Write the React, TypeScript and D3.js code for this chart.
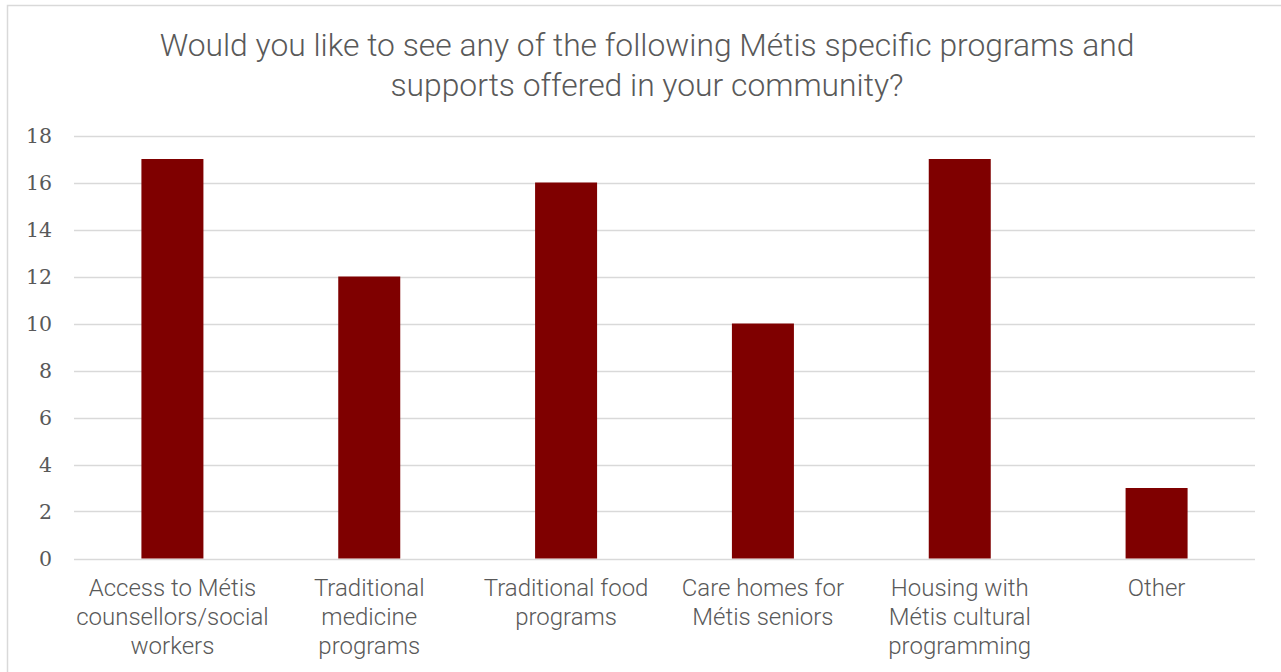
import React from "react";
import * as d3 from "d3";

const categories: string[][] = [
  ["Access to Métis", "counsellors/social", "workers"],
  ["Traditional", "medicine", "programs"],
  ["Traditional food", "programs"],
  ["Care homes for", "Métis seniors"],
  ["Housing with", "Métis cultural", "programming"],
  ["Other"],
];
const values: number[] = [17, 12, 16, 10, 17, 3];
const yTicks: number[] = [0, 2, 4, 6, 8, 10, 12, 14, 16, 18];
const titleLines: string[] = [
  "Would you like to see any of the following Métis specific programs and",
  "supports offered in your community?",
];

const W = 1281;
const H = 672;
const plotLeft = 74;
const plotRight = 1255;
const plotTop = 135.5;
const plotBottom = 558.5;
const textColor = "#595959";
const barColor = "#7f0000";

export default function App() {
  const x = d3
    .scaleBand<number>()
    .domain(categories.map((_, i) => i))
    .range([plotLeft, plotRight])
    .paddingInner(0.685)
    .paddingOuter(0.3425);
  const y = d3.scaleLinear().domain([0, 18]).range([plotBottom, plotTop]);

  return (
    <svg
      width={W}
      height={H}
      style={{ position: "absolute", left: 0, top: 0, background: "#fff" }}
    >
      <rect x={7.5} y={5.5} width={1280} height={700} fill="#fff" stroke="#d9d9d9" strokeWidth={1.5} />
      {titleLines.map((t, i) => (
        <text
          key={i}
          x={647}
          y={56 + i * 40}
          textAnchor="middle"
          fontFamily="Roboto"
          fontWeight={300}
          fontSize={31.8}
          fill={textColor}
        >
          {t}
        </text>
      ))}
      {yTicks.map((t) => (
        <g key={t}>
          <line
            x1={plotLeft}
            x2={plotRight}
            y1={Math.round(y(t)) + 0.5}
            y2={Math.round(y(t)) + 0.5}
            stroke="#d9d9d9"
            strokeWidth={1.5}
          />
          <text
            x={52}
            y={y(t)}
            dy="0.36em"
            textAnchor="end"
            fontFamily="DejaVu Serif"
            fontSize={20.5}
            fill={textColor}
          >
            {t}
          </text>
        </g>
      ))}
      {values.map((v, i) => (
        <rect
          key={i}
          x={x(i)!}
          y={y(v)}
          width={x.bandwidth()}
          height={y(0) - y(v)}
          fill={barColor}
        />
      ))}
      {categories.map((lines, i) => (
        <text
          key={i}
          textAnchor="middle"
          fontFamily="Roboto"
          fontWeight={300}
          fontSize={24}
          fill={textColor}
        >
          {lines.map((l, j) => (
            <tspan key={j} x={x(i)! + x.bandwidth() / 2} y={596 + j * 29}>
              {l}
            </tspan>
          ))}
        </text>
      ))}
    </svg>
  );
}
